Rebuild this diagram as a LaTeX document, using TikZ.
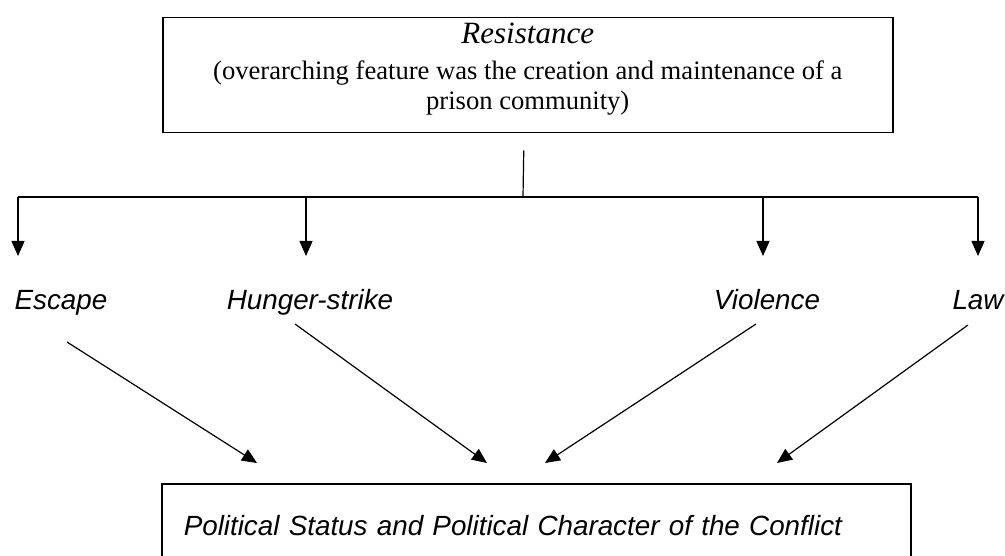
\documentclass[tikz,border=0pt]{standalone}
\usepackage{fontspec}
\setmainfont{Liberation Serif}
\setsansfont{Liberation Sans}
\usetikzlibrary{arrows.meta}

\begin{document}
\begin{tikzpicture}[x=1pt,y=-1pt]
\tikzset{box/.style = {shape=rectangle,draw,line width=1.5pt,inner sep=0pt}}
\tikzset{edge/.style = {-{Triangle[length=15pt,width=13pt]},line width=1.2pt}}
\tikzset{tag/.style = {font=\fontsize{27.8}{33}\selectfont\sffamily\itshape,anchor=base,inner sep=0pt}}
\useasboundingbox (0,0) rectangle (1005,556);
\clip (0,0) rectangle (1005,556);

\node[box, anchor=north west, minimum width=730pt, minimum height=115pt, align=center,
  font=\fontsize{26.6}{30}\selectfont] (res) at (162,17)
  {{\fontsize{31}{30}\selectfont\itshape Resistance}\\[6pt]
   (overarching feature was the creation and maintenance of a\\
   prison community)\rule[-18pt]{0pt}{18pt}};

\node[tag] (escape) at (61,310) {Escape};
\node[tag] (hunger) at (310,310) {Hunger-strike};
\node[tag] (violence) at (767,310) {Violence};
\node[tag] (law) at (978,310) {Law};

\node[box, anchor=north west, minimum width=749pt, minimum height=84pt, text width=705pt,
  inner xsep=22pt, align=left, font=\fontsize{27.8}{33}\selectfont\sffamily\itshape] (status) at (161,483)
  {Political Status and Political Character of the Conflict};

\coordinate (hub) at (523,197);
\coordinate (b1) at (18,197);
\coordinate (b2) at (306,197);
\coordinate (b3) at (763,197);
\coordinate (b4) at (978,197);

\draw[line width=1.2pt] ([xshift=-4pt,yshift=-17pt]res.south) -- (hub);
\draw[line width=1.2pt] (b1) -- (b4);
\draw[edge] (b1) -- ++(0,59);
\draw[edge] (b2) -- ++(0,59);
\draw[edge] (b3) -- ++(0,59);
\draw[edge] (b4) -- ++(0,59);

\draw[edge] ([xshift=6pt,yshift=-32pt]escape.base) -- ([xshift=96pt,yshift=20pt]status.north west);
\draw[edge] ([xshift=-15pt,yshift=-14pt]hunger.base) -- ([xshift=326pt,yshift=20pt]status.north west);
\draw[edge] ([xshift=-11pt,yshift=-14pt]violence.base) -- ([xshift=384pt,yshift=20pt]status.north west);
\draw[edge] ([xshift=-10pt,yshift=-15pt]law.base) -- ([xshift=616pt,yshift=20pt]status.north west);
\end{tikzpicture}
\end{document}
